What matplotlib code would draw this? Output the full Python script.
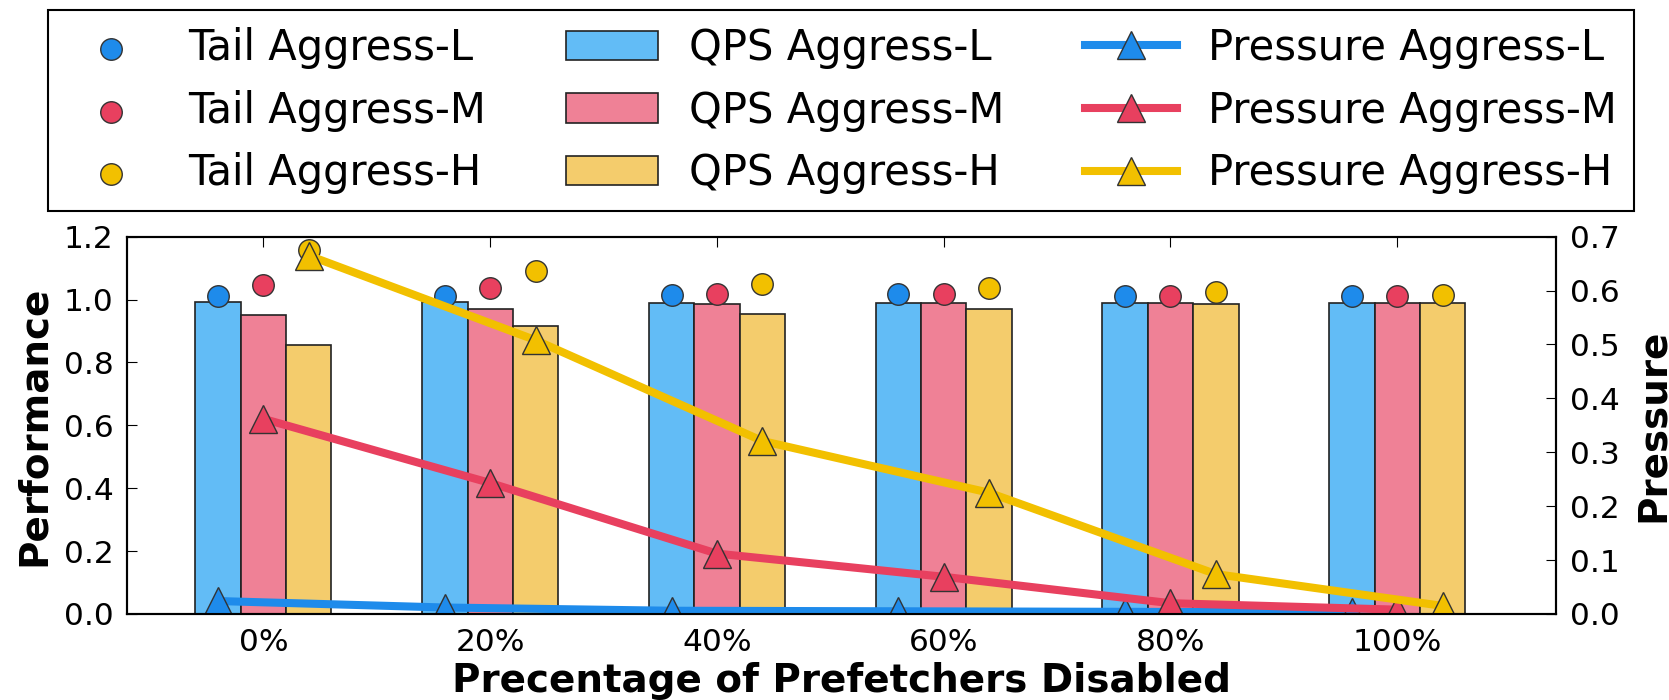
import numpy as np
import matplotlib
matplotlib.use("Agg")
import matplotlib.pyplot as plt

# percentage of prefetchers disabled
categories = ['0%', '20%', '40%', '60%', '80%', '100%']
levels = ['L', 'M', 'H']

# normalized QPS (bars)
qps_L = [0.991, 0.991, 0.990, 0.990, 0.990, 0.990]
qps_M = [0.951, 0.970, 0.986, 0.990, 0.990, 0.990]
qps_H = [0.856, 0.916, 0.955, 0.970, 0.986, 0.990]

# normalized tail latency (dots)
tail_L = [1.011, 1.011, 1.013, 1.019, 1.011, 1.011]
tail_M = [1.046, 1.037, 1.017, 1.017, 1.011, 1.011]
tail_H = [1.157, 1.091, 1.048, 1.036, 1.023, 1.013]

# memory pressure (right axis)
press_L = [0.024, 0.012, 0.006, 0.005, 0.004, 0.003]
press_M = [0.362, 0.243, 0.112, 0.069, 0.020, 0.008]
press_H = [0.665, 0.508, 0.321, 0.225, 0.074, 0.015]

dot_colors = ['#1E8BEB', '#E8405F', '#F2C000']
bar_colors = ['#62BCF6', '#EF8196', '#F4CC6C']

x = np.arange(len(categories))
w = 0.2

fig = plt.figure(figsize=(16.69, 7), dpi=100)
ax = fig.add_axes([0.0763, 0.1229, 0.856, 0.539])
ax2 = ax.twinx()

bars = []
for i, (vals, c) in enumerate(zip([qps_L, qps_M, qps_H], bar_colors)):
    b = ax.bar(x + (i - 1) * w, vals, w, color=c, edgecolor='#222222',
               linewidth=1.2, label='QPS Aggress-' + levels[i], zorder=2)
    bars.append(b)

dots = []
for i, (vals, c) in enumerate(zip([tail_L, tail_M, tail_H], dot_colors)):
    d = ax.scatter(x + (i - 1) * w, vals, s=240, color=c, edgecolor='#333333',
                   linewidth=1.0, label='Tail Aggress-' + levels[i], zorder=3)
    dots.append(d)

lines = []
for i, (vals, c) in enumerate(zip([press_L, press_M, press_H], dot_colors)):
    l, = ax2.plot(x + (i - 1) * w, vals, color=c, linewidth=5.8, marker='^',
                  markersize=20, markeredgecolor='#333333', markeredgewidth=1.0,
                  label='Pressure Aggress-' + levels[i])
    lines.append(l)

ax.set_xlim(-0.6, 5.7)
ax.set_ylim(0, 1.2)
ax2.set_ylim(0, 0.7)
ax.set_xticks(x)
ax.set_xticklabels(categories)
ax.set_yticks(np.arange(0, 1.21, 0.2))
ax2.set_yticks(np.arange(0, 0.71, 0.1))
ax.yaxis.set_major_formatter(matplotlib.ticker.FormatStrFormatter('%.1f'))
ax2.yaxis.set_major_formatter(matplotlib.ticker.FormatStrFormatter('%.1f'))

ax.tick_params(axis='both', direction='in', length=7, labelsize=22.5, pad=10,
               top=True, right=False)
ax2.tick_params(axis='y', direction='in', length=7, labelsize=22.5, pad=10)
for a in (ax, ax2):
    for s in a.spines.values():
        s.set_linewidth(1.5)

ax.set_xlabel('Precentage of Prefetchers Disabled', fontsize=28, fontweight='bold',
              labelpad=4)
ax.set_ylabel('Performance', fontsize=28, fontweight='bold', labelpad=8)
ax2.set_ylabel('Pressure', fontsize=28, fontweight='bold', labelpad=10)

handles = dots + list(bars) + lines
labels = [h.get_label() for h in handles]
leg = fig.legend(handles, labels, ncol=3, loc='center', mode='expand',
                 bbox_to_anchor=(0.0288, 0.701, 0.9502, 0.282),
                 fontsize=30, handlelength=2.2, handletextpad=0.75,
                 fancybox=False, edgecolor='black', framealpha=1,
                 borderaxespad=0, scatterpoints=1)
leg.get_frame().set_linewidth(1.5)

fig.savefig('out.png', dpi=100)
